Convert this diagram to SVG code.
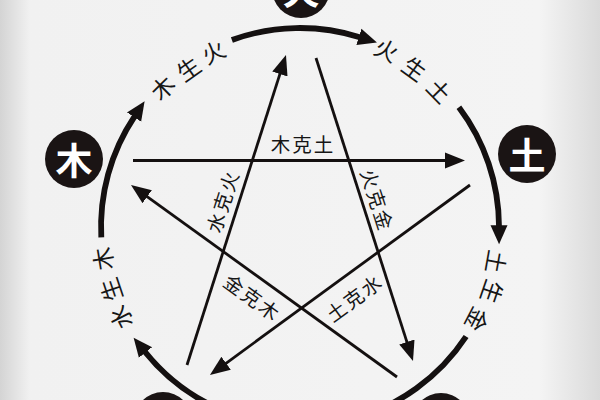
<svg xmlns="http://www.w3.org/2000/svg" width="600" height="400" viewBox="0 0 600 400">
<defs>
<linearGradient id="bg" x1="0" y1="0" x2="1" y2="0">
<stop offset="0" stop-color="#d4d4d4"/>
<stop offset="0.05" stop-color="#f1f1f1"/>
<stop offset="0.9" stop-color="#f4f4f4"/>
<stop offset="1" stop-color="#dadada"/>
</linearGradient>
<marker id="arcHead" markerUnits="userSpaceOnUse" viewBox="0 -10 20 20" markerWidth="20" markerHeight="20" refX="1" refY="0" orient="auto">
<path d="M0,-8.5 L19,0 L0,8.5 z" fill="#141010"/>
</marker>
<marker id="lineHead" markerUnits="userSpaceOnUse" viewBox="0 -10 22 20" markerWidth="22" markerHeight="20" refX="1" refY="0" orient="auto">
<path d="M0,-8 L20,0 L0,8 z" fill="#141010"/>
</marker>
</defs>
<style>
.arc{fill:none;stroke:#141010;stroke-width:5.8}
.ke{fill:none;stroke:#141010;stroke-width:2.8}
.node{fill:#1a1414}
.nl{fill:#ffffff;font-family:"Noto Sans CJK SC","Noto Sans CJK JP",sans-serif;font-weight:700;font-size:37px;text-anchor:middle;dominant-baseline:central}
.al{fill:#161616;font-family:"Noto Sans CJK SC","Noto Sans CJK JP",sans-serif;font-size:23px;text-anchor:middle;dominant-baseline:central}
.kl{fill:#161616;font-family:"Noto Sans CJK SC","Noto Sans CJK JP",sans-serif;font-size:19.5px;letter-spacing:2px;text-anchor:middle;dominant-baseline:central}
</style>
<rect x="0" y="0" width="600" height="400" fill="url(#bg)"/>

<g id="connectors">
<path class="arc" d="M101.3,237.4 A199,199 0 0 1 134.6,116.3" marker-end="url(#arcHead)"/>
<path class="arc" d="M231.9,40 A199,199 0 0 1 359.8,37.2" marker-end="url(#arcHead)"/>
<path class="arc" d="M458.9,107.2 A199,199 0 0 1 499,226.3" marker-end="url(#arcHead)"/>
<path class="arc" d="M466.1,336.5 A199,199 0 0 1 351.5,419.2"/>
<path class="arc" d="M231.9,414 A199,199 0 0 1 144.9,351.7" marker-end="url(#arcHead)"/>

<path class="ke" d="M133,160.5 L446,160.5" marker-end="url(#lineHead)"/>
<path class="ke" d="M470,185 L225.3,363.8" marker-end="url(#lineHead)"/>
<path class="ke" d="M187,365 L280.2,73.1" marker-end="url(#lineHead)"/>
<path class="ke" d="M316,58 L407.2,342.9" marker-end="url(#lineHead)"/>
<path class="ke" d="M397,377 L146.4,196.1" marker-end="url(#lineHead)"/>
</g>

<g id="arc-labels">
<text class="al" transform="translate(162,87) rotate(-44.6)">木</text>
<text class="al" transform="translate(188,68) rotate(-35.2)">生</text>
<text class="al" transform="translate(213,51) rotate(-26.3)">火</text>

<text class="al" transform="translate(387,49) rotate(26.1)">火</text>
<text class="al" transform="translate(415,68) rotate(35.9)">生</text>
<text class="al" transform="translate(440,90) rotate(45.6)">土</text>

<text class="al" transform="translate(497,262) rotate(100.1)">土</text>
<text class="al" transform="translate(493,292) rotate(108.9)">生</text>
<text class="al" transform="translate(478,320) rotate(117.6)">金</text>

<text class="al" transform="translate(120,318) rotate(-116.8)">水</text>
<text class="al" transform="translate(110,290) rotate(-108.6)">生</text>
<text class="al" transform="translate(102,259) rotate(-99.2)">木</text>
</g>

<g id="ke-labels">
<text class="kl" x="303" y="143">木克土</text>
<text class="kl" transform="translate(222,201) rotate(-72.3)">水克火</text>
<text class="kl" transform="translate(378,200) rotate(72.2)">火克金</text>
<text class="kl" transform="translate(253,297) rotate(35.8)">金克木</text>
<text class="kl" transform="translate(354,297) rotate(-36.2)">土克水</text>
</g>

<g id="fire">
<circle class="node" cx="301" cy="-11" r="29"/>
<text class="nl" x="301" y="-11">火</text>
</g>
<g id="wood">
<circle class="node" cx="74" cy="159" r="29"/>
<text class="nl" x="74" y="159">木</text>
</g>
<g id="earth">
<circle class="node" cx="527" cy="154" r="29"/>
<text class="nl" x="527" y="154">土</text>
</g>
<g id="water">
<circle class="node" cx="163" cy="421" r="29"/>
</g>
<g id="metal">
<circle class="node" cx="441" cy="422" r="29"/>
</g>
</svg>
